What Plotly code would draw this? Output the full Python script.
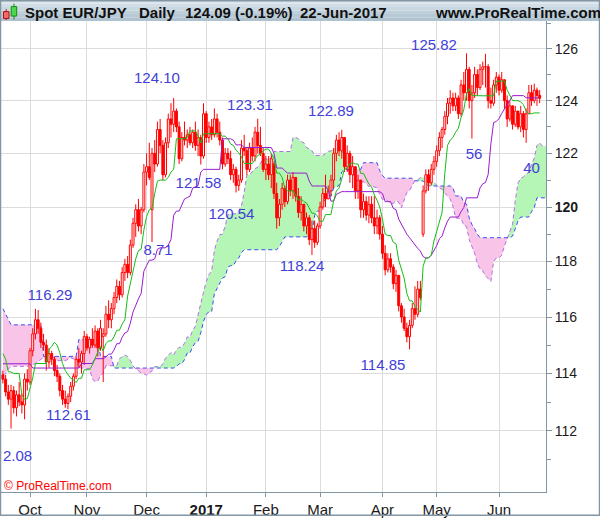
import math
import pandas as pd
import plotly.graph_objects as go

# ---------------- data ----------------
DATES = pd.bdate_range("2016-09-19", "2017-06-22")

OPEN = [
    113.95, 113.80, 113.35, 113.10, 113.40, 112.80, 113.25, 113.00, 112.90, 113.80,
    113.70, 114.80, 115.40, 115.90, 115.60, 115.10, 115.00, 114.40, 114.70, 114.50,
    114.10, 113.90, 113.40, 113.10, 112.95, 113.20, 113.55, 113.90, 114.50, 114.40,
    114.70, 115.30, 114.90, 115.20, 115.00, 115.50, 114.90, 115.30, 115.40, 116.10,
    115.90, 116.30, 116.70, 117.10, 116.80, 117.60, 117.90, 117.60, 118.60, 119.40,
    119.90, 119.30, 119.90, 121.30, 121.50, 119.90, 122.00, 121.60, 122.90, 122.30,
    121.20, 122.40, 123.30, 123.10, 123.60, 123.00, 121.80, 122.60, 122.50, 122.70,
    122.40, 122.80, 122.30, 122.60, 121.90, 123.50, 122.60, 123.00, 122.70, 123.30,
    122.80, 122.50, 121.60, 122.00, 121.80, 121.20, 121.40, 120.80, 121.00, 122.20,
    122.10, 121.40, 122.20, 121.90, 122.80, 122.30, 122.00, 121.40, 121.60, 121.20,
    121.60, 120.50, 119.60, 120.10, 120.70, 120.20, 121.00, 120.60, 121.10, 120.40,
    119.80, 120.10, 119.30, 119.60, 118.80, 119.20, 118.70, 119.30, 120.00, 120.50,
    120.30, 120.60, 121.00, 122.00, 122.50, 122.10, 122.60, 121.50, 122.00, 121.20,
    121.50, 120.60, 121.00, 119.90, 120.20, 119.70, 120.10, 119.60, 119.30, 119.60,
    119.00, 118.30, 117.70, 118.10, 117.80, 117.20, 117.50, 116.40, 116.00, 115.60,
    115.30, 115.70, 116.30, 116.10, 117.00, 119.00, 120.60, 121.20, 120.90, 121.40,
    121.70, 122.10, 122.60, 122.90, 123.40, 123.90, 124.10, 123.80, 124.10, 123.50,
    124.60, 124.30, 125.20, 124.00, 124.30, 125.00, 124.50, 125.20, 125.30, 125.30,
    124.00, 123.90, 124.60, 124.90, 124.40, 124.80, 124.00, 123.30, 123.80, 123.10,
    123.60, 123.00, 123.50, 122.90, 123.50, 124.30, 124.00, 124.40, 124.20,
]
HIGH = [
    114.10, 113.95, 113.60, 113.60, 113.55, 113.40, 113.70, 113.30, 114.00, 114.15,
    114.90, 115.60, 116.29, 116.25, 115.80, 115.40, 115.20, 114.90, 114.80, 114.60,
    114.30, 114.00, 113.60, 113.40, 113.30, 113.70, 114.00, 114.60, 114.90, 114.80,
    115.50, 115.40, 115.30, 115.60, 115.70, 115.60, 115.90, 115.60, 116.40, 116.60,
    116.50, 116.90, 117.35, 117.30, 117.80, 118.10, 118.20, 118.80, 119.60, 120.10,
    120.30, 120.00, 121.60, 122.00, 122.40, 122.20, 122.50, 123.20, 123.30, 122.50,
    122.60, 123.50, 123.90, 124.10, 123.70, 123.20, 122.80, 123.20, 122.90, 123.00,
    122.90, 123.20, 122.90, 122.70, 123.90, 123.60, 123.20, 123.30, 123.70, 123.50,
    123.20, 122.60, 122.20, 122.20, 122.10, 121.60, 121.50, 121.20, 122.50, 122.70,
    122.20, 122.40, 122.60, 123.00, 123.31, 123.00, 122.20, 121.90, 121.90, 122.00,
    121.70, 120.90, 120.30, 120.90, 120.80, 121.20, 121.20, 121.30, 121.10, 120.70,
    120.40, 120.10, 119.80, 119.70, 119.50, 119.50, 119.40, 120.20, 120.70, 121.20,
    120.80, 121.20, 122.20, 122.70, 122.80, 122.89, 122.60, 122.30, 122.10, 121.90,
    121.50, 121.20, 121.00, 120.50, 120.40, 120.40, 120.40, 120.40, 119.90, 119.70,
    119.30, 118.60, 118.30, 118.30, 117.90, 117.70, 117.50, 116.50, 116.30, 115.80,
    115.90, 116.50, 117.10, 117.30, 117.30, 120.80, 121.40, 121.40, 121.60, 121.90,
    122.30, 122.80, 123.00, 123.60, 124.10, 124.40, 124.30, 124.30, 124.20, 124.80,
    125.10, 125.82, 125.30, 124.60, 125.30, 125.20, 125.40, 125.50, 125.80, 125.40,
    124.50, 124.80, 125.10, 125.00, 125.10, 124.80, 124.20, 124.00, 123.80, 123.80,
    123.60, 123.80, 123.60, 123.70, 124.60, 124.60, 124.65, 124.50, 124.40,
]
LOW = [
    113.65, 113.20, 112.90, 112.08, 112.60, 112.50, 112.85, 112.60, 112.40, 113.40,
    113.60, 114.60, 115.20, 115.40, 114.90, 114.80, 114.10, 114.20, 114.30, 113.90,
    113.70, 113.20, 112.90, 112.80, 112.75, 113.00, 113.40, 113.80, 114.20, 114.00,
    114.30, 114.80, 114.70, 114.90, 114.90, 114.60, 114.80, 113.70, 115.30, 115.60,
    115.60, 116.10, 116.50, 116.60, 116.70, 117.30, 117.40, 117.50, 118.50, 118.90,
    119.10, 119.00, 119.80, 120.80, 121.00, 118.71, 121.30, 121.50, 122.00, 121.00,
    121.10, 122.20, 122.60, 122.80, 122.80, 121.60, 121.70, 122.30, 122.20, 122.30,
    122.20, 122.10, 121.90, 121.58, 121.80, 122.40, 122.40, 122.50, 122.60, 122.60,
    122.30, 121.40, 121.50, 121.60, 121.00, 120.90, 120.54, 120.60, 120.90, 121.90,
    121.20, 121.30, 121.70, 121.70, 122.00, 121.90, 121.30, 121.00, 121.00, 120.70,
    120.30, 119.20, 119.30, 119.90, 120.00, 120.10, 120.40, 120.30, 120.20, 119.60,
    119.50, 119.10, 119.00, 118.60, 118.24, 118.50, 118.60, 119.20, 119.90, 120.00,
    120.30, 120.40, 120.70, 121.70, 121.90, 121.80, 121.30, 121.30, 120.90, 120.70,
    120.30, 120.30, 119.60, 119.60, 119.50, 119.40, 119.40, 119.00, 119.00, 118.80,
    118.10, 117.50, 117.60, 117.60, 117.00, 116.90, 116.20, 115.80, 115.50, 115.10,
    114.85, 115.60, 115.90, 116.00, 116.60, 118.90, 120.50, 120.60, 120.80, 121.20,
    121.50, 121.90, 122.20, 122.70, 123.10, 123.50, 123.60, 123.60, 123.30, 123.40,
    124.00, 124.00, 123.70, 122.56, 124.10, 124.20, 124.40, 124.60, 124.50, 123.70,
    123.70, 123.80, 124.30, 124.20, 124.30, 123.70, 123.00, 123.20, 122.90, 123.00,
    122.90, 122.80, 122.60, 122.40, 123.50, 123.80, 123.90, 123.80, 123.90,
]
CLOSE = [
    113.80, 113.35, 113.10, 113.40, 112.80, 113.25, 113.00, 112.90, 113.80, 113.70,
    114.80, 115.40, 115.90, 115.60, 115.10, 115.00, 114.40, 114.70, 114.50, 114.10,
    113.90, 113.40, 113.10, 112.95, 113.20, 113.55, 113.90, 114.50, 114.40, 114.70,
    115.30, 114.90, 115.20, 115.00, 115.50, 114.90, 115.60, 115.40, 116.10, 115.90,
    116.30, 116.70, 117.10, 116.80, 117.60, 117.90, 117.60, 118.60, 119.40, 119.90,
    119.30, 119.90, 121.30, 121.50, 121.10, 122.00, 121.60, 122.90, 122.30, 121.20,
    122.40, 123.30, 123.10, 123.60, 123.00, 121.80, 122.60, 122.50, 122.70, 122.40,
    122.80, 122.30, 122.60, 121.90, 123.50, 122.60, 123.00, 122.70, 123.30, 122.80,
    122.50, 121.60, 122.00, 121.80, 121.20, 121.40, 120.80, 121.00, 122.20, 122.10,
    121.40, 122.20, 121.90, 122.80, 122.30, 122.00, 121.40, 121.60, 121.20, 121.80,
    120.50, 119.60, 120.10, 120.70, 120.20, 121.00, 120.60, 121.10, 120.40, 119.80,
    120.10, 119.30, 119.60, 118.80, 119.20, 118.70, 119.30, 120.00, 120.50, 120.30,
    120.60, 121.00, 122.00, 122.50, 122.10, 122.60, 121.50, 122.00, 121.20, 121.50,
    120.60, 121.00, 119.90, 120.20, 119.70, 120.10, 119.60, 119.30, 119.60, 119.00,
    118.30, 117.70, 118.10, 117.80, 117.20, 117.50, 116.40, 116.00, 115.60, 115.30,
    115.70, 116.30, 116.10, 117.00, 116.70, 120.60, 121.20, 120.90, 121.40, 121.70,
    122.10, 122.60, 122.90, 123.40, 123.90, 124.10, 123.80, 124.10, 123.50, 124.60,
    124.30, 125.20, 124.00, 124.30, 125.00, 124.50, 125.20, 125.30, 125.30, 124.00,
    123.90, 124.60, 124.90, 124.40, 124.80, 124.00, 123.30, 123.80, 123.10, 123.60,
    123.00, 123.50, 122.90, 123.50, 124.30, 124.00, 124.40, 124.20, 124.09,
]
# Ichimoku lines
TENKAN = [
    114.70, 114.50, 114.06, 114.05, 114.00, 114.00, 114.00, 113.25, 113.09, 113.12,
    113.49, 113.84, 114.35, 114.35, 114.35, 114.35, 114.35, 114.85, 114.95, 115.10,
    115.00, 114.73, 114.35, 114.10, 113.98, 113.83, 113.78, 113.68, 113.83, 113.83,
    114.13, 114.13, 114.13, 114.30, 114.55, 114.75, 114.95, 114.80, 115.05, 115.15,
    115.15, 115.30, 115.53, 115.53, 115.75, 115.90, 116.75, 117.20, 117.60, 118.10,
    118.40, 118.45, 119.15, 119.65, 119.90, 119.95, 120.50, 120.96, 121.00, 121.00,
    121.00, 121.10, 121.30, 121.40, 122.55, 122.55, 122.55, 122.55, 122.60, 122.85,
    122.85, 122.85, 122.65, 122.39, 122.74, 122.74, 122.74, 122.74, 122.74, 122.74,
    122.74, 122.65, 122.65, 122.55, 122.35, 122.30, 122.12, 122.02, 121.87, 121.62,
    121.62, 121.62, 121.62, 121.77, 121.93, 121.96, 122.10, 122.16, 122.16, 122.00,
    121.80, 121.26, 121.26, 121.10, 120.70, 120.60, 120.60, 120.60, 120.45, 120.25,
    120.30, 120.20, 120.15, 119.95, 119.77, 119.77, 119.67, 119.47, 119.47, 119.72,
    119.72, 119.72, 120.22, 120.60, 120.70, 121.05, 121.40, 121.45, 121.60, 121.65,
    121.60, 121.60, 121.25, 121.25, 121.05, 120.85, 120.75, 120.45, 120.25, 120.00,
    119.55, 119.00, 118.95, 118.95, 118.70, 118.65, 118.05, 117.75, 117.40, 116.85,
    116.58, 116.58, 116.38, 116.28, 116.18, 117.83, 118.13, 118.13, 118.23, 118.75,
    119.10, 119.40, 119.80, 121.25, 122.30, 122.50, 122.60, 122.80, 122.95, 123.35,
    123.65, 124.26, 124.46, 124.19, 124.19, 124.19, 124.19, 124.19, 124.19, 124.19,
    124.18, 124.18, 124.75, 124.75, 124.75, 124.75, 124.40, 124.20, 124.00, 124.00,
    124.00, 123.95, 123.85, 123.60, 123.50, 123.50, 123.53, 123.53, 123.53,
]
KIJUN = [
    114.34, 114.34, 114.34, 114.34, 114.34, 114.34, 114.34, 114.34, 114.34, 114.34,
    114.34, 114.19, 114.19, 114.19, 114.19, 114.19, 114.19, 114.19, 114.19, 114.19,
    114.19, 114.19, 114.19, 114.19, 114.19, 114.19, 114.19, 114.19, 114.19, 114.35,
    114.35, 114.35, 114.35, 114.35, 114.52, 114.52, 114.52, 114.52, 114.58, 114.68,
    114.68, 114.83, 115.05, 115.05, 115.28, 115.43, 115.48, 115.78, 116.18, 116.43,
    116.65, 116.85, 117.65, 117.85, 118.05, 118.05, 118.10, 118.45, 118.50, 118.50,
    118.50, 118.60, 118.80, 119.70, 119.85, 119.85, 120.10, 120.30, 120.35, 120.40,
    120.70, 120.75, 120.80, 121.30, 121.40, 121.40, 121.40, 121.40, 121.40, 121.40,
    121.40, 122.55, 122.55, 122.55, 122.55, 122.50, 122.32, 122.32, 122.32, 122.22,
    122.22, 122.22, 122.22, 122.22, 122.22, 122.22, 122.22, 122.22, 122.22, 122.22,
    122.00, 121.45, 121.45, 121.45, 121.35, 121.26, 121.26, 121.26, 121.26, 121.26,
    121.26, 121.26, 121.26, 120.96, 120.78, 120.78, 120.78, 120.78, 120.78, 120.78,
    120.62, 120.22, 120.22, 120.47, 120.52, 120.57, 120.57, 120.57, 120.57, 120.57,
    120.57, 120.57, 120.57, 120.57, 120.57, 120.57, 120.57, 120.57, 120.57, 120.57,
    120.50, 120.20, 120.20, 120.20, 119.95, 119.90, 119.55, 119.35, 119.20, 119.00,
    118.87, 118.73, 118.58, 118.48, 118.38, 118.18, 118.13, 118.13, 118.23, 118.38,
    118.58, 118.83, 118.93, 119.23, 119.48, 119.63, 119.63, 119.63, 119.63, 119.83,
    119.98, 120.34, 120.34, 120.34, 120.34, 120.34, 120.71, 120.86, 120.91, 121.21,
    122.36, 123.16, 123.21, 123.31, 123.51, 123.66, 123.86, 124.01, 124.19, 124.19,
    124.19, 124.19, 124.19, 124.11, 124.11, 124.11, 124.11, 124.10, 124.10,
]
# cloud spans, one value per bar slot (they run 3 slots past the last bar)
SPAN_A = [
    113.95, 114.00, 114.15, 114.25, 114.25, 114.25, 114.25, 114.25, 114.25, 114.25,
    114.30, 114.30, 114.35, 114.40, 114.50, 114.55, 114.60, 114.60, 114.60, 114.55,
    114.45, 114.45, 114.45, 114.45, 114.50, 114.55, 114.52, 114.42, 114.20, 114.20,
    114.17, 114.17, 114.17, 113.80, 113.72, 113.73, 113.92, 114.02, 114.27, 114.27,
    114.27, 114.27, 114.27, 114.52, 114.57, 114.65, 114.60, 114.46, 114.27, 114.15,
    114.09, 114.01, 113.99, 113.94, 114.01, 114.09, 114.24, 114.24, 114.24, 114.33,
    114.54, 114.64, 114.74, 114.66, 114.82, 114.92, 114.92, 115.07, 115.29, 115.29,
    115.52, 115.67, 116.12, 116.49, 116.89, 117.27, 117.53, 117.65, 118.40, 118.75,
    118.98, 119.00, 119.30, 119.71, 119.75, 119.75, 119.75, 119.85, 120.05, 120.55,
    121.20, 121.20, 121.33, 121.43, 121.48, 121.63, 121.78, 121.80, 121.73, 121.85,
    122.07, 122.07, 122.07, 122.07, 122.07, 122.07, 122.07, 122.60, 122.60, 122.55,
    122.45, 122.40, 122.22, 122.17, 122.10, 121.92, 121.92, 121.92, 121.92, 122.00,
    122.08, 122.09, 122.16, 122.19, 122.19, 122.11, 121.90, 121.36, 121.36, 121.28,
    121.03, 120.93, 120.93, 120.93, 120.86, 120.76, 120.78, 120.73, 120.71, 120.46,
    120.28, 120.28, 120.23, 120.13, 120.13, 120.25, 120.17, 119.97, 120.22, 120.54,
    120.61, 120.81, 120.99, 121.01, 121.09, 121.11, 121.09, 121.09, 120.91, 120.91,
    120.81, 120.71, 120.66, 120.51, 120.41, 120.29, 120.03, 119.60, 119.58, 119.58,
    119.33, 119.28, 118.80, 118.55, 118.30, 117.93, 117.73, 117.66, 117.48, 117.38,
    117.28, 118.00, 118.13, 118.13, 118.23, 118.57, 118.84, 119.12, 119.37, 120.24,
    120.89, 121.07, 121.12, 121.22, 121.29, 121.59, 121.82, 122.30, 122.40, 122.27,
    122.27, 122.27,
]
SPAN_B = [
    116.30, 116.10, 115.90, 115.72, 115.72, 115.72, 115.72, 115.72, 115.72, 115.72,
    115.72, 115.72, 115.72, 115.72, 115.72, 114.60, 114.60, 114.60, 114.60, 114.60,
    114.60, 114.60, 114.60, 114.60, 114.60, 114.60, 114.60, 114.60, 115.20, 115.20,
    115.20, 115.20, 115.20, 115.20, 115.20, 115.20, 114.60, 114.60, 114.60, 114.60,
    114.60, 114.19, 114.19, 114.19, 114.19, 114.19, 114.19, 114.19, 114.19, 114.19,
    114.19, 114.19, 114.19, 114.19, 114.19, 114.19, 114.19, 114.19, 114.19, 114.19,
    114.19, 114.19, 114.19, 114.19, 114.24, 114.34, 114.34, 114.49, 114.72, 114.72,
    114.94, 115.09, 115.14, 115.44, 115.84, 116.09, 116.19, 116.19, 116.84, 117.04,
    117.24, 117.40, 117.45, 117.80, 117.85, 117.85, 118.03, 118.13, 118.33, 118.43,
    118.43, 118.43, 118.43, 118.43, 118.43, 118.43, 118.43, 118.43, 118.43, 118.43,
    118.43, 118.43, 118.55, 118.75, 118.90, 118.90, 118.90, 118.90, 118.90, 118.90,
    118.90, 118.90, 118.90, 118.90, 118.90, 119.70, 119.85, 119.85, 120.10, 120.30,
    120.35, 120.40, 120.70, 120.75, 120.80, 121.30, 121.40, 121.40, 121.40, 121.40,
    121.40, 121.40, 121.40, 121.65, 121.65, 121.65, 121.65, 121.65, 121.65, 121.35,
    121.17, 121.07, 121.07, 121.07, 121.07, 121.07, 121.07, 121.07, 121.07, 121.07,
    121.07, 121.07, 120.97, 120.97, 120.97, 120.97, 120.87, 120.78, 120.78, 120.78,
    120.78, 120.78, 120.78, 120.78, 120.78, 120.78, 120.71, 120.41, 120.41, 120.41,
    120.16, 120.11, 119.60, 119.35, 119.20, 119.00, 118.87, 118.87, 118.87, 118.87,
    118.87, 118.87, 118.87, 118.87, 118.87, 118.87, 118.87, 118.87, 118.93, 119.23,
    119.48, 119.63, 119.63, 119.63, 119.63, 119.83, 119.98, 120.34, 120.34, 120.34,
    120.34, 120.34,
]

MONTH_LABELS = ["Oct", "Nov", "Dec", "<b>2017</b>", "Feb", "Mar", "Apr", "May", "Jun"]
PRICE_TICKS = [112, 114, 116, 118, 120, 122, 124, 126]
PRICE_TICK_TEXT = ["112", "114", "116", "118", "<b>120</b>", "122", "124", "126"]
PRICE_MINOR_TICKS = [111, 113, 115, 117, 119, 121, 123, 125, 127]

# swing high / low labels (visible text, bar slot, price where the text sits)
LABEL_TEXT = ["2.08", "116.29", "112.61", "8.71", "124.10", "121.58", "120.54",
              "123.31", "118.24", "122.89", "114.85", "125.82", "56", "40"]
LABEL_AT_X = [5.39, 17.37, 24.20, 57.21, 56.84, 72.15, 84.32,
              91.15, 110.33, 121.03, 140.20, 159.02, 173.77, 194.98]
LABEL_AT_Y = [111.09, 116.76, 112.49, 118.38, 124.81, 120.84, 119.68,
              123.80, 117.78, 123.55, 114.26, 126.08, 121.92, 121.41]

n_bars = len(DATES)
for arr in (OPEN, HIGH, LOW, CLOSE, TENKAN, KIJUN):
    assert len(arr) == n_bars, len(arr)
assert len(SPAN_A) == len(SPAN_B) == n_bars + 3

BAR_X = list(range(n_bars))
CLOUD_X = list(range(len(SPAN_A)))
MONTH_TICK_IDX = [i for i in range(1, n_bars) if DATES[i].month != DATES[i - 1].month]

# ---------------- styles ----------------
FONT = "Liberation Sans, Arial, Helvetica, sans-serif"
RED = "#ff0000"
GREEN_FILL = "#b5f5b5"
PINK_FILL = "#f8c4e7"
SPAN_A_COLOR = "#b46ee6"
SPAN_B_COLOR = "#3a4ff0"
TENKAN_COLOR = "#17bd17"
KIJUN_COLOR = "#9a1ccf"
LABEL_COLOR = "#4141d9"
FRAME = "#8396a4"
BODY_HALF = 0.36

W, H = 600, 519
ML, MR, MT, MB = 1, 54, 21, 24
PW, PH = W - ML - MR, H - MT - MB


def px_x(px):
    return (px - ML) / PW


def px_y(py):
    return (H - MB - py) / PH


# ---------------- cloud polygons ----------------
def cloud_polygons(x, a, b):
    polys = {1: [], -1: []}

    def flush(run, sign):
        if len(run) < 2 or sign is None:
            return
        xs = [p[0] for p in run] + [p[0] for p in reversed(run)]
        ys = [p[1] for p in run] + [p[2] for p in reversed(run)]
        polys[sign].append((xs, ys))

    run, sign = [], None
    for i in range(len(x)):
        d = a[i] - b[i]
        if i > 0:
            dp = a[i - 1] - b[i - 1]
            if dp * d < 0:
                t = dp / (dp - d)
                xc = x[i - 1] + t * (x[i] - x[i - 1])
                yc = a[i - 1] + t * (a[i] - a[i - 1])
                run.append((xc, yc, yc))
                flush(run, sign)
                run, sign = [(xc, yc, yc)], None
        run.append((x[i], a[i], b[i]))
        if sign is None and d != 0:
            sign = 1 if d > 0 else -1
    flush(run, sign)
    return polys


def join(polys):
    xs, ys = [], []
    for px_, py_ in polys:
        xs += px_ + [None]
        ys += py_ + [None]
    return xs, ys


polys = cloud_polygons(CLOUD_X, SPAN_A, SPAN_B)
gx, gy = join(polys[1])
rx, ry = join(polys[-1])

fig = go.Figure()
fig.add_trace(go.Scatter(x=gx, y=gy, mode="lines", fill="toself", fillcolor=GREEN_FILL,
                         line=dict(width=0, color=GREEN_FILL), hoverinfo="skip"))
fig.add_trace(go.Scatter(x=rx, y=ry, mode="lines", fill="toself", fillcolor=PINK_FILL,
                         line=dict(width=0, color=PINK_FILL), hoverinfo="skip"))
fig.add_trace(go.Scatter(x=CLOUD_X, y=SPAN_A, mode="lines",
                         line=dict(color=SPAN_A_COLOR, width=1, dash="4px,3px")))
fig.add_trace(go.Scatter(x=CLOUD_X, y=SPAN_B, mode="lines",
                         line=dict(color=SPAN_B_COLOR, width=1, dash="4px,3px")))

# labels (under the bars)
fig.add_trace(go.Scatter(x=LABEL_AT_X, y=LABEL_AT_Y, mode="text", text=LABEL_TEXT,
                         textposition="middle center", cliponaxis=False,
                         textfont=dict(family=FONT, size=15, color=LABEL_COLOR),
                         hoverinfo="skip"))

# candles
wx, wy = [], []
ux, uy, dx, dy = [], [], [], []
for i in BAR_X:
    wx += [i, i, None]
    wy += [LOW[i], HIGH[i], None]
    lo, hi = min(OPEN[i], CLOSE[i]), max(OPEN[i], CLOSE[i])
    bx = [i - BODY_HALF, i + BODY_HALF, i + BODY_HALF, i - BODY_HALF, i - BODY_HALF, None]
    by = [lo, lo, hi, hi, lo, None]
    if CLOSE[i] >= OPEN[i]:
        ux += bx
        uy += by
    else:
        dx += bx
        dy += by
fig.add_trace(go.Scatter(x=wx, y=wy, mode="lines", line=dict(color=RED, width=1), hoverinfo="skip"))
fig.add_trace(go.Scatter(x=ux, y=uy, mode="lines", fill="toself", fillcolor="white",
                         line=dict(color=RED, width=1), hoverinfo="skip"))
fig.add_trace(go.Scatter(x=dx, y=dy, mode="lines", fill="toself", fillcolor=RED,
                         line=dict(color=RED, width=1), hoverinfo="skip"))

fig.add_trace(go.Scatter(x=BAR_X, y=KIJUN, mode="lines", line=dict(color=KIJUN_COLOR, width=1)))
fig.add_trace(go.Scatter(x=BAR_X, y=TENKAN, mode="lines", line=dict(color=TENKAN_COLOR, width=1)))

# ---------------- layout ----------------
x_range = [-0.70, 200.33]
y_range = [math.log10(109.91), math.log10(127.08)]

fig.update_layout(
    width=W, height=H, margin=dict(l=ML, r=MR, t=MT, b=MB, pad=0),
    paper_bgcolor="white", plot_bgcolor="white", showlegend=False,
    font=dict(family=FONT, color="#111111"),
    xaxis=dict(range=x_range, tickmode="array", tickvals=MONTH_TICK_IDX, ticktext=MONTH_LABELS,
               showgrid=True, gridcolor="#dcdcdc", gridwidth=1, zeroline=False,
               ticks="outside", ticklen=4, tickcolor=FRAME, showline=True, linecolor=FRAME,
               linewidth=1, tickfont=dict(family=FONT, size=15, color="#1a1a1a"), fixedrange=True),
    yaxis=dict(type="log", range=y_range, side="right", tickmode="array", tickvals=PRICE_TICKS,
               ticktext=PRICE_TICK_TEXT, showgrid=True, gridcolor="#dcdcdc", gridwidth=1,
               zeroline=False, ticks="outside", ticklen=5, tickcolor=FRAME, showline=True,
               linecolor=FRAME, linewidth=1, tickfont=dict(family=FONT, size=14, color="#1a1a1a"),
               minor=dict(tickmode="array", tickvals=PRICE_MINOR_TICKS, ticks="outside",
                          ticklen=4, tickcolor=FRAME, showgrid=False),
               fixedrange=True),
)

shapes = []
# title bar gradient
bar_cols = ["#dbe5ec", "#d2dee7", "#c9d7e1", "#c0d0db", "#b7c9d5", "#aec2cf"]
step = 21 / len(bar_cols)
for k, c in enumerate(bar_cols):
    shapes.append(dict(type="rect", xref="paper", yref="paper", layer="above",
                       x0=px_x(0), x1=px_x(600), y0=px_y(step * (k + 1)), y1=px_y(step * k),
                       fillcolor=c, line=dict(width=0)))
# candle icon
shapes.append(dict(type="line", xref="paper", yref="paper", x0=px_x(6.2), x1=px_x(6.2),
                   y0=px_y(20), y1=px_y(9), line=dict(color="#b01010", width=1)))
shapes.append(dict(type="rect", xref="paper", yref="paper", x0=px_x(3.5), x1=px_x(9),
                   y0=px_y(18.5), y1=px_y(11.5), fillcolor="#f06a6a", line=dict(color="#b01010", width=1)))
shapes.append(dict(type="line", xref="paper", yref="paper", x0=px_x(14), x1=px_x(14),
                   y0=px_y(19.5), y1=px_y(3.5), line=dict(color="#158a15", width=1)))
shapes.append(dict(type="rect", xref="paper", yref="paper", x0=px_x(11.2), x1=px_x(16.7),
                   y0=px_y(16), y1=px_y(6.5), fillcolor="#4fd64f", line=dict(color="#158a15", width=1)))
# outer frame
shapes.append(dict(type="rect", xref="paper", yref="paper", layer="above",
                   x0=px_x(0.5), x1=px_x(599.5), y0=px_y(518.5), y1=px_y(0.5),
                   line=dict(color=FRAME, width=1.5), fillcolor="rgba(0,0,0,0)"))
fig.update_layout(shapes=shapes)

annotations = []
title_items = [("Spot EUR/JPY", 22.5), ("Daily", 136.5), ("124.09 (-0.19%)", 183),
               ("22-Jun-2017", 298.5), ("www.ProRealTime.com", 433)]
for txt, xpx in title_items:
    annotations.append(dict(text="<b>" + txt + "</b>", xref="paper", yref="paper",
                            x=px_x(xpx), y=px_y(12.5), xanchor="left", yanchor="middle",
                            showarrow=False, font=dict(family=FONT, size=15, color="#111111")))
annotations.append(dict(text="\u00a9 ProRealTime.com", xref="paper", yref="paper",
                        x=px_x(2), y=px_y(489), xanchor="left", yanchor="middle",
                        showarrow=False, font=dict(family=FONT, size=12, color="#ff0000")))
fig.update_layout(annotations=annotations)

fig.write_html("out.html", config={"displayModeBar": False},
               post_script="document.body.style.margin='0px';")
